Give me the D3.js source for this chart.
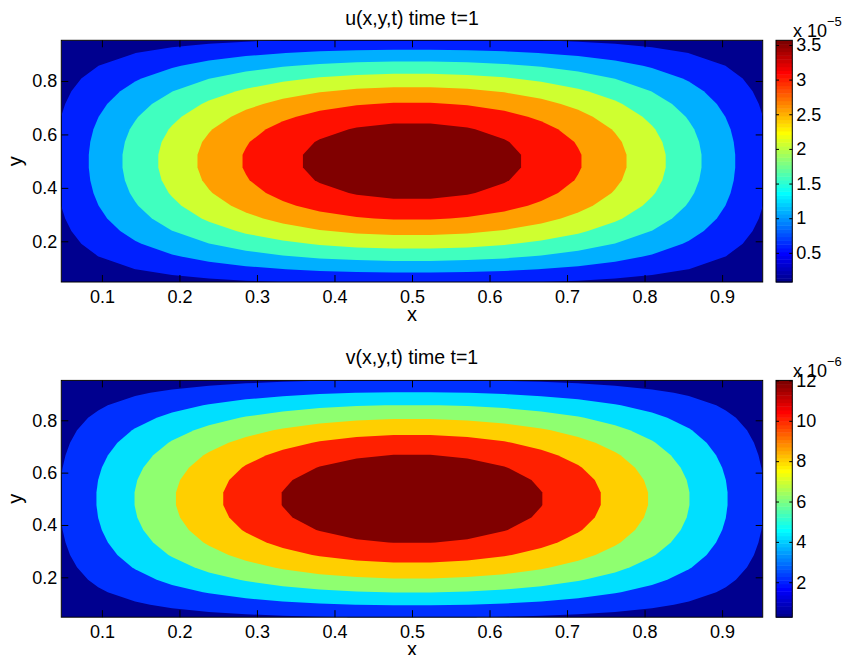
<!DOCTYPE html>
<html><head><meta charset="utf-8">
<script src="https://cdn.jsdelivr.net/npm/d3@7"></script>
<style>
body{margin:0;background:#fff}
svg{display:block}
text{font-family:"Liberation Sans",Arial,Helvetica,sans-serif;fill:#000}
</style>
</head><body>
<svg id="chart" width="847" height="655"></svg>
<script>
// ---- data ----
const gridX = [0.0476,0.0952,0.1429,0.1905,0.2381,0.2857,0.3333,0.3810,0.4286,0.4762,
               0.5238,0.5714,0.6190,0.6667,0.7143,0.7619,0.8095,0.8571,0.9048,0.9524];
const gridY = [0.0476,0.0952,0.1429,0.1905,0.2381,0.2857,0.3333,0.3810,0.4286,0.4762,
               0.5238,0.5714,0.6190,0.6667,0.7143,0.7619,0.8095,0.8571,0.9048,0.9524];
const profileX = [0.149,0.2948,0.4339,0.5633,0.6802,0.7818,0.866,0.9309,0.9749,0.9972,
                  0.9972,0.9749,0.9309,0.866,0.7818,0.6802,0.5633,0.4339,0.2948,0.149];
const profileY = [0.149,0.2948,0.4339,0.5633,0.6802,0.7818,0.866,0.9309,0.9749,0.9972,
                  0.9972,0.9749,0.9309,0.866,0.7818,0.6802,0.5633,0.4339,0.2948,0.149];
const uAmplitude = 3.587;   // x 10^-5
const vAmplitude = 12.07;   // x 10^-6
const uLevels = [0.4606,0.9212,1.3818,1.8424,2.3030,2.7636,3.2242];   // x 10^-5
const vLevels = [1.732,3.464,5.196,6.928,8.660,10.392];               // x 10^-6
const xTicks = [0.1,0.2,0.3,0.4,0.5,0.6,0.7,0.8,0.9];
const yTicks = [0.2,0.4,0.6,0.8];
const uColorTicks = [0.5,1,1.5,2,2.5,3,3.5];
const vColorTicks = [2,4,6,8,10,12];
const titles = ["u(x,y,t) time t=1","v(x,y,t) time t=1"];
const exponents = ["\u22125","\u22126"];

// ---- jet colormap (64) ----
function jet(m){
  const n = Math.ceil(m/4);
  const u = [];
  for(let i=1;i<=n;i++) u.push(i/n);
  for(let i=0;i<n-1;i++) u.push(1);
  for(let i=n;i>=1;i--) u.push(i/n);
  const off = Math.ceil(n/2) - (m%4===1?1:0);
  const get = k => (k>=1 && k<=u.length) ? u[k-1] : 0;
  const out = [];
  for(let i=1;i<=m;i++){
    const r = get(i-off-n), g = get(i-off), b = get(i-off+n);
    out.push(d3.rgb(r*255,g*255,b*255).formatHex());
  }
  return out;
}
const cmap = jet(64);
const bandColor = (k,N) => cmap[Math.min(63, Math.floor(k/N*64))];

const svg = d3.select("#chart");
const left = 61.3, right = 762.7, cbL = 776, cbR = 792.3;
const panels = [
  {amp:uAmplitude, levels:uLevels, cTicks:uColorTicks, top:40.3, bottom:282, titleY:25},
  {amp:vAmplitude, levels:vLevels, cTicks:vColorTicks, top:380.4, bottom:617.2, titleY:364}
];

const nx = gridX.length, ny = gridY.length;
const gx = d3.scaleLinear().domain([0.5, nx-0.5]).range([gridX[0], gridX[nx-1]]);
const gy = d3.scaleLinear().domain([0.5, ny-0.5]).range([gridY[0], gridY[ny-1]]);

panels.forEach((p,pi)=>{
  const values = new Array(nx*ny);
  for(let j=0;j<ny;j++) for(let i=0;i<nx;i++) values[j*nx+i] = p.amp*profileX[i]*profileY[j];
  const ext = d3.extent(values);

  const x = d3.scaleLinear().domain([gridX[0], gridX[nx-1]]).range([left, right]);
  const y = d3.scaleLinear().domain([gridY[0], gridY[ny-1]]).range([p.bottom, p.top]);

  const g = svg.append("g");
  const clipId = "clip"+pi;
  g.append("clipPath").attr("id",clipId).append("rect")
    .attr("x",left).attr("y",p.top).attr("width",right-left).attr("height",p.bottom-p.top);

  const N = p.levels.length;
  const plot = g.append("g").attr("clip-path",`url(#${clipId})`);
  plot.append("rect").attr("x",left).attr("y",p.top).attr("width",right-left).attr("height",p.bottom-p.top)
    .attr("fill",bandColor(0,N));

  const proj = d3.geoTransform({point:function(a,b){ this.stream.point(x(gx(a)), y(gy(b))); }});
  const path = d3.geoPath(proj);
  const conts = d3.contours().size([nx,ny]).thresholds(p.levels)(values);
  plot.selectAll("path.band").data(conts).join("path").attr("class","band")
    .attr("d",path).attr("fill",(d,k)=>bandColor(k+1,N)).attr("stroke","none");

  // axes
  const fmt = d => String(d);
  const ax = g.append("g").attr("transform",`translate(0,${p.bottom})`)
    .call(d3.axisBottom(x).tickValues(xTicks).tickFormat(fmt).tickSize(-7).tickSizeOuter(0).tickPadding(8));
  const axT = g.append("g").attr("transform",`translate(0,${p.top})`)
    .call(d3.axisTop(x).tickValues(xTicks).tickFormat("").tickSize(-7).tickSizeOuter(0));
  const ay = g.append("g").attr("transform",`translate(${left},0)`)
    .call(d3.axisLeft(y).tickValues(yTicks).tickFormat(fmt).tickSize(-7).tickSizeOuter(0).tickPadding(4));
  const ayR = g.append("g").attr("transform",`translate(${right},0)`)
    .call(d3.axisRight(y).tickValues(yTicks).tickFormat("").tickSize(-7).tickSizeOuter(0));
  [ax,axT,ay,ayR].forEach(a=>{
    a.select(".domain").remove();
    a.selectAll("line").attr("stroke","#000");
    a.selectAll("text").attr("font-size",18).attr("fill","#000");
  });
  g.append("rect").attr("x",left).attr("y",p.top).attr("width",right-left).attr("height",p.bottom-p.top)
    .attr("fill","none").attr("stroke","#000").attr("stroke-width",1);

  // labels
  g.append("text").attr("x",(left+right)/2).attr("y",p.titleY).attr("text-anchor","middle")
    .attr("font-size",19.5).text(titles[pi]);
  g.append("text").attr("x",(left+right)/2).attr("y",p.bottom+39).attr("text-anchor","middle")
    .attr("font-size",20).text("x");
  g.append("text").attr("transform",`translate(22.4,${(p.top+p.bottom)/2}) rotate(-90)`)
    .attr("text-anchor","middle").attr("font-size",20).text("y");

  // colorbar
  const cy = d3.scaleLinear().domain(ext).range([p.bottom, p.top]);
  const step = (ext[1]-ext[0])/64;
  const cb = g.append("g");
  cb.selectAll("rect.s").data(cmap).join("rect").attr("class","s")
    .attr("x",cbL).attr("width",cbR-cbL)
    .attr("y",(c,i)=>cy(ext[0]+(i+1)*step)).attr("height",(c,i)=>cy(ext[0]+i*step)-cy(ext[0]+(i+1)*step)+0.5)
    .attr("fill",c=>c);
  const cR = g.append("g").attr("transform",`translate(${cbR},0)`)
    .call(d3.axisRight(cy).tickValues(p.cTicks).tickFormat(fmt).tickSize(-3).tickSizeOuter(0).tickPadding(4));
  const cL = g.append("g").attr("transform",`translate(${cbL},0)`)
    .call(d3.axisLeft(cy).tickValues(p.cTicks).tickFormat("").tickSize(-3).tickSizeOuter(0));
  [cR,cL].forEach(a=>{
    a.select(".domain").remove();
    a.selectAll("line").attr("stroke","#000");
    a.selectAll("text").attr("font-size",18).attr("fill","#000");
  });
  g.append("rect").attr("x",cbL).attr("y",p.top).attr("width",cbR-cbL).attr("height",p.bottom-p.top)
    .attr("fill","none").attr("stroke","#000").attr("stroke-width",1);
  const mt = g.append("text").attr("x",cbL+17).attr("y",p.top-3).attr("font-size",18);
  mt.append("tspan").text("x 10");
  mt.append("tspan").attr("dy",-11).attr("font-size",13).text(exponents[pi]);
});
</script>
</body></html>
